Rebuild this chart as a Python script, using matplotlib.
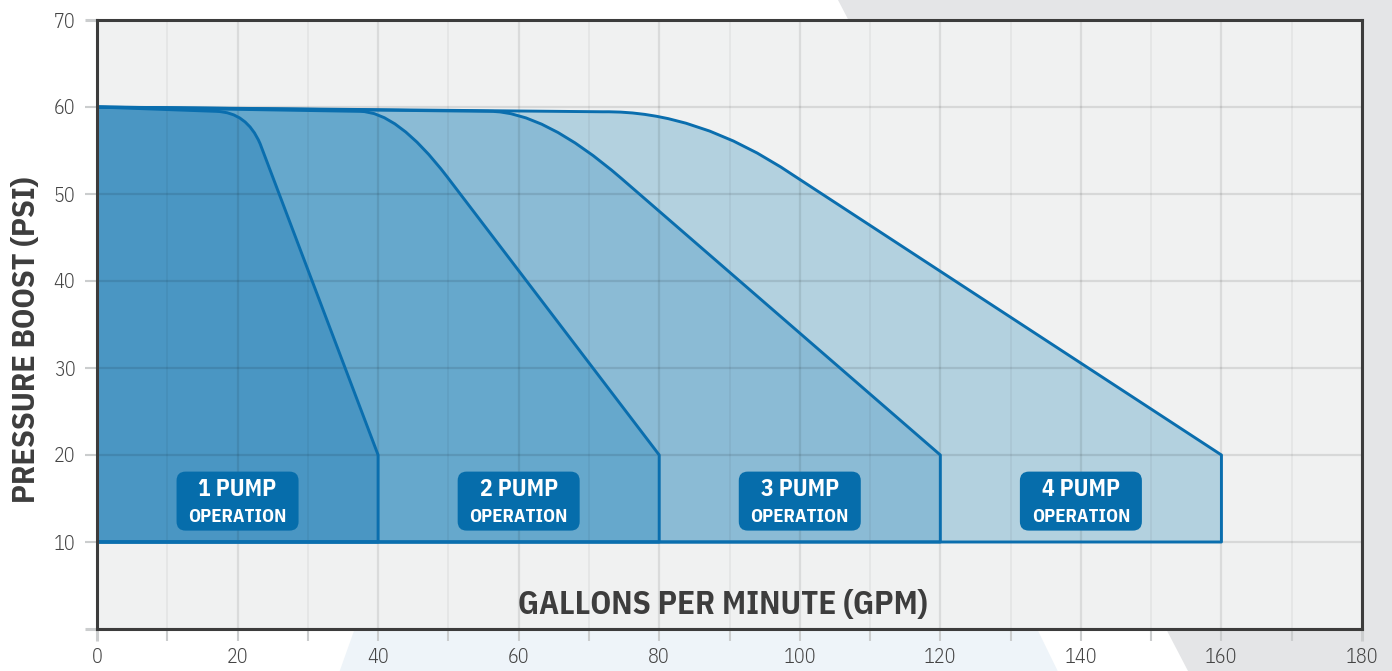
import numpy as np
import matplotlib
matplotlib.use('Agg')
import matplotlib.pyplot as plt
import matplotlib.transforms as mtransforms
from matplotlib.patches import Polygon, FancyBboxPatch, PathPatch
from matplotlib.path import Path

plt.rcParams['font.family'] = ['IBM Plex Sans Condensed', 'DejaVu Sans']

# pump curves (gpm, psi):
# start of the flat top, end of the flat part, knee (control point),
# end of the bend, end of the straight fall, floor
pump_start_psi = 60
flat_end_gpm = [17.0, 37.4, 55.9, 72.0]
flat_end_psi = [59.5, 59.5, 59.5, 59.45]
knee_gpm = [21.3, 42.7, 63.6, 85.5]
knee_psi = [59.4, 59.5, 59.5, 59.6]
bend_end_gpm = [23.2, 49.8, 74.6, 99.0]
bend_end_psi = [55.8, 52.0, 51.8, 52.2]
max_gpm = [40, 80, 120, 160]
max_gpm_psi = 20
base_psi = 10

fills = ['#4a96c3', '#66a8cc', '#8bbbd5', '#b3d1df']

label_top = ['1 PUMP', '2 PUMP', '3 PUMP', '4 PUMP']
label_sub = 'OPERATION'
label_x = [20, 60, 100, 140]
label_y = 14.7

xticks = list(range(0, 181, 20))
yticks = list(range(0, 71, 10))
ytick_labels = [''] + [str(v) for v in yticks[1:]]

edge = '#0a6eae'
dark = '#3c3c3c'

W, H = 1392, 671
fig = plt.figure(figsize=(W / 100, H / 100), dpi=100)
fig.patch.set_facecolor('white')

# background shapes (pixel coords -> figure fraction)
def px(pts):
    return [(x / W, 1 - y / H) for x, y in pts]

fig.patches.append(Polygon(px([(837.7, 0), (W, 0), (W, H), (1188, H)]),
                           closed=True, transform=fig.transFigure,
                           facecolor='#e4e5e7', edgecolor='none', zorder=-5))
fig.patches.append(Polygon(px([(339.7, H), (365, 600), (1023, 600), (1057.7, H)]),
                           closed=True, transform=fig.transFigure,
                           facecolor='#eef4f9', edgecolor='none', zorder=-5))

ax = fig.add_axes([97 / W, 1 - 629 / H, (1362 - 97) / W, (629 - 20) / H])
ax.set_facecolor('#f0f1f1')
ax.set_xlim(0, 180)
ax.set_ylim(0, 70)

codes = [Path.MOVETO, Path.LINETO, Path.LINETO, Path.CURVE3, Path.CURVE3,
         Path.LINETO, Path.LINETO, Path.CLOSEPOLY]
for i in reversed(range(4)):
    verts = [(0, base_psi), (0, pump_start_psi),
             (flat_end_gpm[i], flat_end_psi[i]),
             (knee_gpm[i], knee_psi[i]),
             (bend_end_gpm[i], bend_end_psi[i]),
             (max_gpm[i], max_gpm_psi),
             (max_gpm[i], base_psi),
             (0, base_psi)]
    path = Path(verts, codes)
    ax.add_patch(PathPatch(path, facecolor=fills[i], edgecolor='none', zorder=1))
    ax.add_patch(PathPatch(path, facecolor='none', edgecolor=edge, lw=2.1,
                           joinstyle='round', zorder=3))

# grid
ax.set_xticks(xticks)
ax.set_xticks(list(range(10, 180, 20)), minor=True)
ax.set_yticks(yticks)
ax.set_yticklabels(ytick_labels)
ax.set_axisbelow(False)
ax.grid(True, which='major', axis='x', color='black', alpha=0.09, lw=1.6)
ax.grid(True, which='minor', axis='x', color='black', alpha=0.045, lw=1.4)
ax.grid(True, which='major', axis='y', color='black', alpha=0.10, lw=1.6)

ax.tick_params(axis='both', which='both', direction='out', length=8.6,
               width=1.5, color='#cbcdce', labelcolor='#444444', labelsize=14.5)
ax.tick_params(axis='x', pad=5)
ax.tick_params(axis='y', pad=7)
for lab in ax.get_xticklabels() + ax.get_yticklabels():
    lab.set_fontweight(300)
for t in [ax.xaxis.get_major_ticks()[0], ax.xaxis.get_major_ticks()[-1],
          ax.yaxis.get_major_ticks()[0], ax.yaxis.get_major_ticks()[-1]]:
    t.tick1line.set_color(dark)
    t.tick1line.set_markeredgewidth(2.2)

for s in ax.spines.values():
    s.set_color(dark)
    s.set_linewidth(2.2)
    s.set_zorder(6)

# pump labels
for lx, lt in zip(label_x, label_top):
    trans = fig.dpi_scale_trans + mtransforms.ScaledTranslation(lx, label_y, ax.transData)
    box = FancyBboxPatch((-0.61, -0.295), 1.22, 0.59,
                         boxstyle='round,pad=0,rounding_size=0.09',
                         transform=trans, facecolor='#066dab', edgecolor='none',
                         zorder=5)
    ax.add_patch(box)
    ax.annotate(lt, (lx, label_y), xytext=(0, 8.5), textcoords='offset points',
                ha='center', va='center', color='white', fontsize=17,
                fontweight='bold', zorder=6)
    ax.annotate(label_sub, (lx, label_y), xytext=(0, -11.5), textcoords='offset points',
                ha='center', va='center', color='white', fontsize=13.5,
                fontweight='bold', zorder=6)

ax.text(89.1, 2.8, 'GALLONS PER MINUTE (GPM)', ha='center', va='center',
        fontsize=23.5, fontweight='bold', color='#3d3d3d', zorder=6)
fig.text(27 / W, 1 - 340 / H, 'PRESSURE BOOST (PSI)', rotation=90,
         ha='center', va='center', fontsize=23, fontweight='bold', color='#3d3d3d')

fig.savefig('out.png', dpi=100)
